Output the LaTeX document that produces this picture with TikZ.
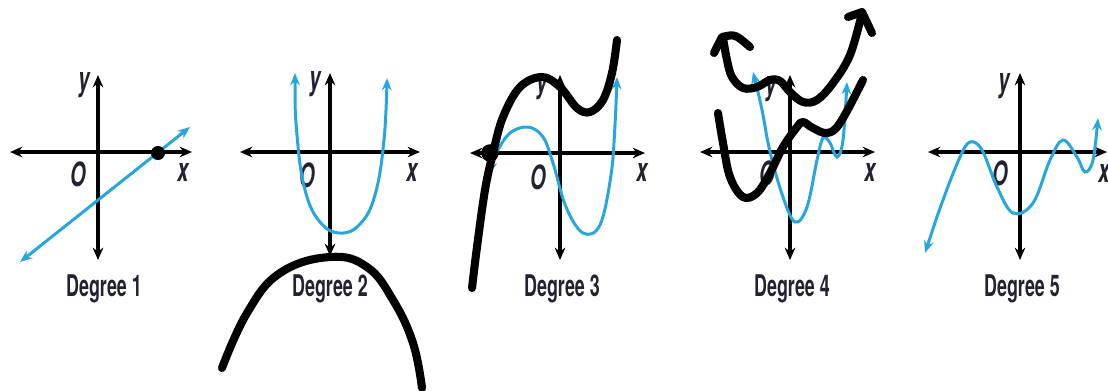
\documentclass[tikz,border=0pt]{standalone}
\usepackage{fontspec}
\usepackage{tikz}
\usetikzlibrary{arrows.meta}
\newfontfamily\condfont[FakeStretch=0.6]{TeX Gyre Heros}
\definecolor{curveblue}{RGB}{38,166,222}
\definecolor{inkgray}{RGB}{34,34,48}

\tikzset{
  axisline/.style={line width=2.3pt,
    {Stealth[length=7pt,width=6pt]}-{Stealth[length=7pt,width=6pt]}},
  bluecurve/.style={draw=curveblue, line width=1.7pt,
    {Stealth[length=7pt,width=5.5pt]}-{Stealth[length=7pt,width=5.5pt]}},
  marker/.style={line width=4.6pt, line cap=round, line join=round},
  deglabel/.style={font=\condfont\bfseries\fontsize{17}{19}\selectfont, text=inkgray},
  axlabel/.style={font=\condfont\bfseries\itshape\fontsize{19}{21}\selectfont, text=inkgray}
}

\begin{document}
\begin{tikzpicture}[x=0.02cm, y=-0.02cm]
  \useasboundingbox (0,0) rectangle (1108,390);

  % Degree 1
  \draw[axisline] (10,152) -- (192,152);
  \draw[axisline] (98,75) -- (98,260);
  \node[axlabel] (y1) at (84,85) {y};
  \node[axlabel] (o1) at (78,174) {O};
  \node[axlabel] (x1) at (183,172) {x};
  \draw[bluecurve] (20,262) -- (190,127);
  \fill (158,153) circle (4pt);

  % Degree 2
  \draw[axisline] (240,152) -- (420,152);
  \draw[axisline] (330,73) -- (330,256);
  \node[axlabel] (y2) at (315,84) {y};
  \node[axlabel] (o2) at (307,175) {O};
  \node[axlabel] (x2) at (412,172) {x};
  \draw[bluecurve] plot[smooth, tension=0.7] coordinates
    {(295,73) (297,135) (305,190) (320,222) (340,233) (360,224) (375,195) (384,140) (387,78)};
  \draw[marker] plot[smooth, tension=0.7] coordinates
    {(222,368) (247,313) (280,273) (330,257) (367,267) (393,300) (413,343) (422,388)};

  % Degree 3
  \draw[axisline] (470,153) -- (645,153);
  \draw[axisline] (560,75) -- (560,260);
  \node[axlabel] (y3) at (542,87) {y};
  \node[axlabel] (o3) at (538,177) {O};
  \node[axlabel] (x3) at (642,172) {x};
  \draw[bluecurve] plot[smooth, tension=0.6] coordinates
    {(489,174) (497,152) (510,133) (528,127) (543,137) (553,163) (566,207) (583,233)
     (600,225) (611,175) (615,125) (617,77)};
  \draw[marker] plot[smooth, tension=0.6] coordinates
    {(472,288) (477,247) (485,190) (493,153) (503,117) (520,87) (542,77) (560,87)
     (577,108) (590,112) (603,100) (612,73) (617,40)};
  \fill (490,153) circle (5pt);

  % Degree 4
  \draw[axisline] (700,152) -- (875,152);
  \draw[axisline] (790,75) -- (790,260);
  \node[axlabel] (y4) at (771,89) {y};
  \node[axlabel] (o4) at (767,173) {O};
  \node[axlabel] (x4) at (870,172) {x};
  \draw[bluecurve] plot[smooth, tension=0.6] coordinates
    {(753,72) (762,110) (770,152) (783,197) (795,222) (807,207) (817,160) (823,138)
     (830,143) (837,157) (843,140) (847,82)};
  \draw[marker] plot[smooth, tension=0.6] coordinates
    {(723,38) (727,60) (732,77) (743,88) (757,87) (770,80) (780,81) (790,92)
     (803,102) (817,100) (833,83) (850,55) (862,13)};
  \draw[marker] (714,53) -- (722,37) .. controls (735,34) .. (750,47);
  \draw[marker] (848,17) -- (862,12) -- (872,33);
  \draw[marker] plot[smooth, tension=0.6] coordinates
    {(718,113) (723,143) (730,177) (743,197) (757,193) (770,173) (783,147) (797,127)
     (803,122) (813,128) (827,133) (840,123) (863,80)};

  % Degree 5
  \draw[axisline] (928,152) -- (1107,152);
  \draw[axisline] (1020,73) -- (1020,260);
  \node[axlabel] (y5) at (1004,86) {y};
  \node[axlabel] (o5) at (1000,173) {O};
  \node[axlabel] (x5) at (1104,173) {x};
  \draw[bluecurve] plot[smooth, tension=0.6] coordinates
    {(925,253) (943,200) (960,157) (970,142) (982,150) (997,187) (1013,213) (1033,203)
     (1050,160) (1063,140) (1077,157) (1085,172) (1093,160) (1098,118)};

  % labels
  \foreach \n/\cx in {1/104,2/330,3/562,4/792,5/1022}
    \node[deglabel] (deg\n) at (\cx,289) {Degree \n};
\end{tikzpicture}
\end{document}
